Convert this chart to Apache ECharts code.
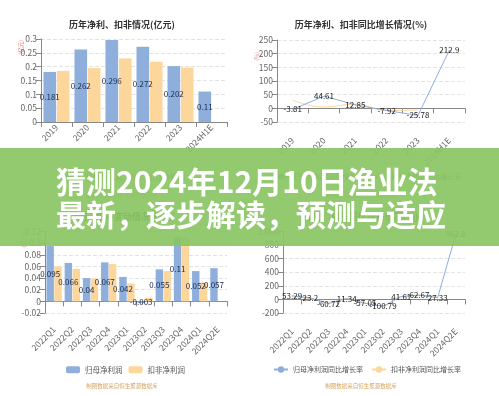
<!DOCTYPE html>
<html>
<head>
<meta charset="utf-8">
<script src="https://cdn.jsdelivr.net/npm/echarts@6/dist/echarts.min.js"></script>
<style>html,body{margin:0;padding:0;background:#fff;}#c{width:499px;height:396px;}</style>
</head>
<body>
<div id="c"></div>
<script>
// ---- data ----
const years = ['2019', '2020', '2021', '2022', '2023', '2024H1E'];
const yearNet = [0.181, 0.262, 0.296, 0.272, 0.202, 0.11];
const yearDeduct = [0.185, 0.195, 0.23, 0.218, 0.197, null];
const yearNetYoy = [-3.81, 44.61, 12.85, -7.92, -25.78, 212.9];
const yearDeductYoy = [30, 5, 15, -8, -6, null];

const quarters = ['2022Q1', '2022Q2', '2022Q3', '2022Q4', '2023Q1', '2023Q2', '2023Q3', '2023Q4', '2024Q1', '2024Q2E'];
const qNet = [0.095, 0.066, 0.04, 0.067, 0.042, -0.003, 0.055, 0.11, 0.052, 0.057];
const qDeduct = [0.06, 0.056, 0.039, 0.064, 0.031, 0.006, 0.052, 0.11, 0.032, null];
const qNetYoy = [53.29, 23.2, -60.72, 11.34, -57.05, -100.79, 41.61, 62.67, 27.33, 962.8];
const qDeductYoy = [40, 10, -45, 15, -50, -90, 45, 60, 25, null];

const titles = ['历年净利、扣非情况(亿元)', '历年净利、扣非同比增长情况(%)', '净利、扣非变动情况(亿元)', '净利、扣非同比增长情况(%)'];
const headline = ['猜测2024年12月10日渔业法', '最新，逐步解读，预测与适应'];
const sourceText = '制图数据来自恒生聚源数据库';
const barNames = ['归母净利润', '扣非净利润'];
const lineNames = ['归母净利润同比增长率', '扣非净利润同比增长率'];

// ---- style ----
const BLUE = '#8eaedc';
const ORANGE = '#fdd69c';
const FONT = 'Noto Sans CJK SC';
const axisLabelColor = '#666';

function xAxis(gridIndex, data, margin) {
  return {
    type: 'category', gridIndex, data,
    axisLine: { onZero: true, lineStyle: { color: '#888' } },
    axisTick: { show: true, lineStyle: { color: '#888' } },
    axisLabel: { rotate: 45, fontSize: 8.5, color: axisLabelColor, margin, interval: 0 }
  };
}
function yAxis(gridIndex, min, max, interval) {
  return {
    type: 'value', gridIndex, min, max, interval,
    axisLine: { show: true, lineStyle: { color: '#888' } },
    axisTick: { show: true, lineStyle: { color: '#888' } },
    axisLabel: { fontSize: 8.5, color: axisLabelColor, margin: 4 },
    splitLine: { show: true, lineStyle: { color: '#e3e3e3', type: 'dashed' } }
  };
}
const barLabel = { show: true, position: 'inside', fontSize: 8, color: '#1e2a4a' };
const lineLabel = { show: true, position: 'inside', fontSize: 8, color: '#222' };

const chart = echarts.init(document.getElementById('c'), null, { renderer: 'canvas' });

function titleAt(text, x, y, size, color, weight) {
  return { text, left: x, top: y, textAlign: 'center',
    textStyle: { fontSize: size, color, fontWeight: weight, fontFamily: FONT } };
}

const option = {
  animation: false,
  backgroundColor: '#fff',
  textStyle: { fontFamily: FONT },
  title: [
    titleAt(titles[0], 117, 15, 9, '#333', 'bold'),
    titleAt(titles[1], 356, 15, 9, '#333', 'bold'),
    titleAt(titles[2], 117, 207, 9, '#333', 'bold'),
    titleAt(titles[3], 356, 207, 9, '#333', 'bold'),
    titleAt(sourceText, 117, 187, 5.5, '#d4a463', 'normal'),
    titleAt(sourceText, 356, 187, 5.5, '#d4a463', 'normal'),
    titleAt(sourceText, 117, 378, 5.5, '#d4a463', 'normal'),
    titleAt(sourceText, 356, 378, 5.5, '#d4a463', 'normal')
  ],
  legend: [
    { data: barNames, left: 61, top: 168, itemWidth: 14, itemHeight: 7, itemGap: 6,
      textStyle: { fontSize: 7.5, color: '#555' } },
    { data: lineNames, left: 268, top: 168, itemWidth: 14, itemHeight: 8, itemGap: 8,
      textStyle: { fontSize: 7, color: '#555' } },
    { data: barNames, left: 61, top: 361, itemWidth: 14, itemHeight: 7, itemGap: 6,
      textStyle: { fontSize: 7.5, color: '#555' } },
    { data: lineNames, left: 268, top: 361, itemWidth: 14, itemHeight: 8, itemGap: 8,
      textStyle: { fontSize: 7, color: '#555' } }
  ],
  grid: [
    { left: 41, right: 272, top: 39, bottom: 274 },
    { left: 277, right: 34, top: 40, bottom: 274 },
    { left: 45, right: 272, top: 231.5, bottom: 83 },
    { left: 283, right: 34, top: 231.5, bottom: 83 }
  ],
  xAxis: [
    xAxis(0, years, 4),
    xAxis(1, years, 17),
    xAxis(2, quarters, 15),
    xAxis(3, quarters, 17)
  ],
  yAxis: [
    yAxis(0, 0, 0.3, 0.05),
    yAxis(1, -50, 250, 50),
    yAxis(2, -0.02, 0.12, 0.02),
    yAxis(3, -200, 1000, 200)
  ],
  series: [
    { name: barNames[0], type: 'bar', xAxisIndex: 0, yAxisIndex: 0, data: yearNet,
      itemStyle: { color: BLUE }, barGap: '6%', barCategoryGap: '16%', label: barLabel },
    { name: barNames[1], type: 'bar', xAxisIndex: 0, yAxisIndex: 0, data: yearDeduct,
      itemStyle: { color: ORANGE }, barGap: '6%', barCategoryGap: '16%' },
    { name: lineNames[1], type: 'line', xAxisIndex: 1, yAxisIndex: 1, data: yearDeductYoy,
      smooth: true, symbol: 'circle', symbolSize: 1, showSymbol: false,
      lineStyle: { color: ORANGE, width: 1 }, itemStyle: { color: ORANGE } },
    { name: lineNames[0], type: 'line', xAxisIndex: 1, yAxisIndex: 1, data: yearNetYoy,
      symbol: 'circle', symbolSize: 1, lineStyle: { color: BLUE, width: 1 },
      itemStyle: { color: BLUE }, label: lineLabel },
    { name: barNames[0], type: 'bar', xAxisIndex: 2, yAxisIndex: 2, data: qNet,
      itemStyle: { color: BLUE }, barGap: '6%', barCategoryGap: '16%', label: barLabel },
    { name: barNames[1], type: 'bar', xAxisIndex: 2, yAxisIndex: 2, data: qDeduct,
      itemStyle: { color: ORANGE }, barGap: '6%', barCategoryGap: '16%' },
    { name: lineNames[1], type: 'line', xAxisIndex: 3, yAxisIndex: 3, data: qDeductYoy,
      smooth: true, symbol: 'circle', symbolSize: 1, showSymbol: false,
      lineStyle: { color: ORANGE, width: 1 }, itemStyle: { color: ORANGE } },
    { name: lineNames[0], type: 'line', xAxisIndex: 3, yAxisIndex: 3, data: qNetYoy,
      symbol: 'circle', symbolSize: 1, lineStyle: { color: BLUE, width: 1 },
      itemStyle: { color: BLUE }, label: lineLabel }
  ],
  graphic: [
    { type: 'text', left: 18, top: 40, rotation: Math.PI / 2, z: 50,
      style: { text: '(亿元)', fontSize: 5.5, fill: '#e07070', fontFamily: FONT } },
    { type: 'text', left: 254, top: 52, rotation: Math.PI / 2, z: 50,
      style: { text: '(%)', fontSize: 5.5, fill: '#e07070', fontFamily: FONT } },
    { type: 'text', left: 21, top: 233, rotation: Math.PI / 2, z: 50,
      style: { text: '(亿元)', fontSize: 5.5, fill: '#e07070', fontFamily: FONT } },
    { type: 'rect', left: 0, top: 148, z: 100,
      shape: { width: 499, height: 98 },
      style: { fill: 'rgba(139,197,100,0.93)' } },
    { type: 'text', left: 56, top: 167, z: 101,
      style: { text: headline[0], fontSize: 30, fontWeight: 'bold', fill: '#fff', fontFamily: FONT } },
    { type: 'text', left: 56, top: 200, z: 101,
      style: { text: headline[1], fontSize: 30, fontWeight: 'bold', fill: '#fff', fontFamily: FONT } }
  ]
};
chart.setOption(option);
</script>
</body>
</html>
